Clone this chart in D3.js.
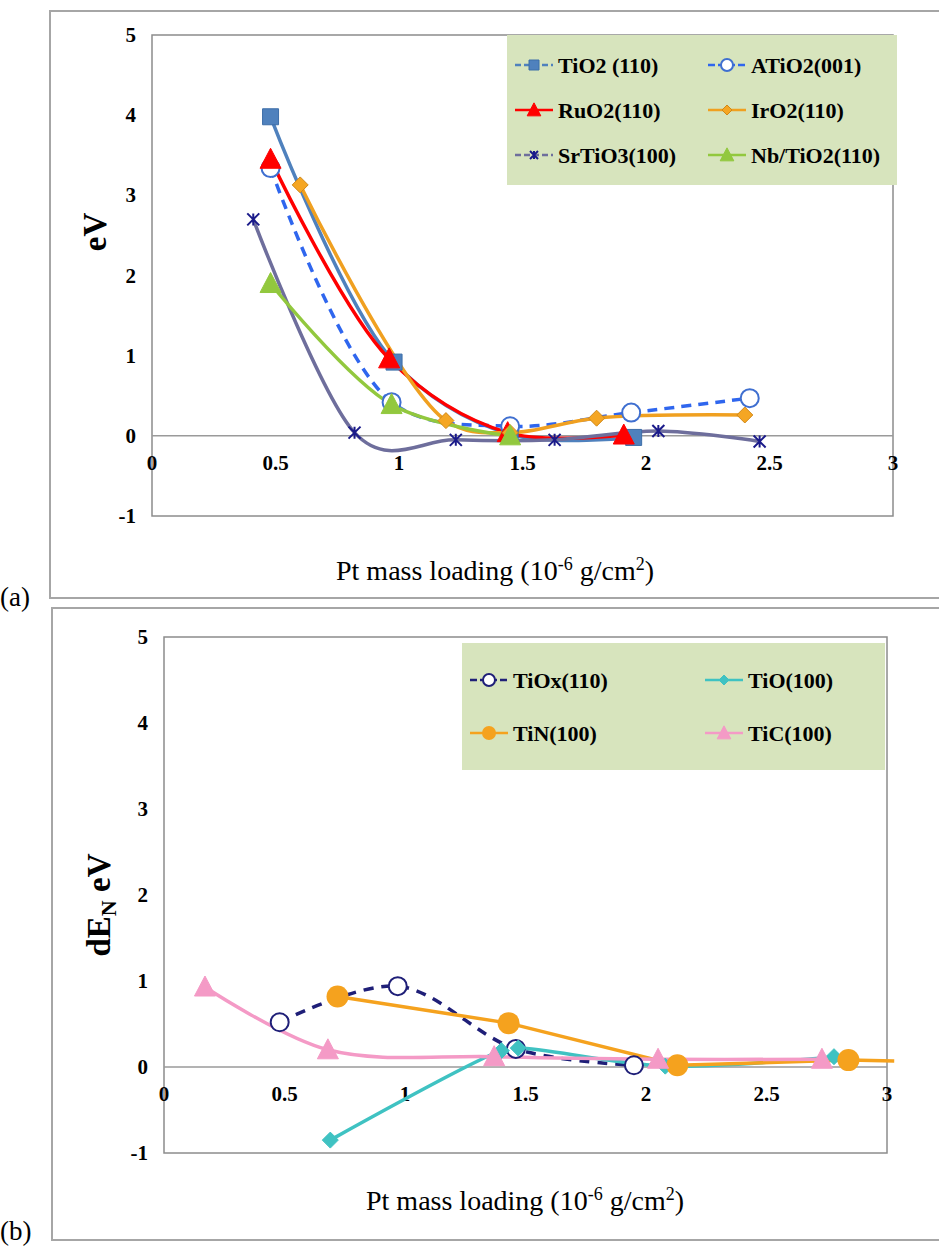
<!DOCTYPE html>
<html>
<head>
<meta charset="utf-8">
<script src="https://d3js.org/d3.v7.min.js"></script>
<style>
  body { margin: 0; background: #fff; }
  svg { display: block; }
  text { font-family: "Liberation Serif", serif; font-weight: normal; }
  text.bold { font-weight: bold; }
</style>
</head>
<body>
<script>
"use strict";

// ---- data, panel (a) ----
var xTicks = [0, 0.5, 1, 1.5, 2, 2.5, 3];
var yTicks = [-1, 0, 1, 2, 3, 4, 5];

var tio2 = [[0.48, 3.98], [0.98, 0.92], [1.45, 0.02], [1.95, -0.02]];
var atio2 = [[0.48, 3.34], [0.97, 0.42], [1.45, 0.12], [1.94, 0.29], [2.42, 0.47]];
var ruo2 = [[0.48, 3.45], [0.96, 0.96], [1.44, 0.04], [1.91, 0.01]];
var iro2 = [[0.60, 3.13], [1.19, 0.19], [1.45, 0.04], [1.80, 0.22], [2.40, 0.26]];
var srtio3 = [[0.41, 2.70], [0.82, 0.04], [1.23, -0.05], [1.63, -0.05], [2.05, 0.06], [2.46, -0.07]];
var nbtio2 = [[0.48, 1.90], [0.97, 0.39], [1.45, 0.0]];

// ---- data, panel (b) ----
var tiox = [[0.48, 0.52], [0.97, 0.94], [1.46, 0.21], [1.95, 0.02]];
var tio = [[0.69, -0.85], [1.40, 0.19], [1.47, 0.22], [2.08, 0.01], [2.78, 0.12]];
var tin = [[0.72, 0.82], [1.43, 0.51], [2.13, 0.02], [2.84, 0.08], [3.03, 0.07]];
var tic = [[0.17, 0.93], [0.68, 0.20], [1.37, 0.12], [2.05, 0.09], [2.73, 0.09]];

var W = 939, H = 1247;
var svg = d3.select("body").append("svg").attr("width", W).attr("height", H);

var panels = [
  {
    tag: "(a)", frame: [50, 11, 900, 587],
    x0: 152, x1: 893, yTop: 35, yBot: 516,
    ylx: 106, yly: 232,
    xtitleX: 495, xtitleY: 580,
    legend: {x: 507, y: 35, w: 390, h: 150, rows: [65, 110, 155], cols: [515, 708]},
    series: [
      {name: "TiO2 (110)", data: tio2, color: "#4f81bd", marker: "square", mfill: "#4f81bd", mstroke: "#3d6ea8", dash: null, legDash: "6,3"},
      {name: "ATiO2(001)", data: atio2, color: "#2f66ee", marker: "circle", mfill: "#fff", mstroke: "#3f6fd0", dash: "10,7"},
      {name: "RuO2(110)", data: ruo2, color: "#ff0000", marker: "triangle", mfill: "#ff0000", mstroke: "#ff0000", dash: null},
      {name: "IrO2(110)", data: iro2, color: "#f0a020", marker: "diamond", mfill: "#f5a623", mstroke: "#d08818", dash: null},
      {name: "SrTiO3(100)", data: srtio3, color: "#6e6e9c", marker: "star", mfill: "none", mstroke: "#1a1a8a", dash: null, legDash: "6,3", alpha: 0},
      {name: "Nb/TiO2(110)", data: nbtio2, color: "#92c83e", marker: "triangle", mfill: "#92c83e", mstroke: "#92c83e", dash: null}
    ]
  },
  {
    tag: "(b)", frame: [52, 608, 900, 632],
    x0: 164, x1: 887, yTop: 637, yBot: 1153,
    ylx: 110, yly: 905,
    xtitleX: 525, xtitleY: 1210,
    legend: {x: 462, y: 643, w: 423, h: 127, rows: [680, 733], cols: [470, 705]},
    series: [
      {name: "TiOx(110)", data: tiox, color: "#1f1f78", marker: "circle", mfill: "#fff", mstroke: "#1f1f78", dash: "10,8"},
      {name: "TiO(100)", data: tio, color: "#3fc2c2", marker: "diamond", mfill: "#3fc2c2", mstroke: "#3fc2c2", dash: null},
      {name: "TiN(100)", data: tin, color: "#f5a21e", marker: "dot", mfill: "#f5a21e", mstroke: "#f5a21e", dash: null, straight: true},
      {name: "TiC(100)", data: tic, color: "#f49ac6", marker: "triangle", mfill: "#f49ac6", mstroke: "#f49ac6", dash: null}
    ]
  }
];

function markerPath(type, s) {
  var h = s / 2;
  if (type === "square") return "M" + (-h) + "," + (-h) + "h" + s + "v" + s + "h" + (-s) + "Z";
  if (type === "triangle") return "M0," + (-h * 1.1) + "L" + (h * 1.05) + "," + (h * 0.9) + "L" + (-h * 1.05) + "," + (h * 0.9) + "Z";
  if (type === "diamond") return "M0," + (-h) + "L" + h + ",0L0," + h + "L" + (-h) + ",0Z";
  if (type === "star") return "M" + (-h) + "," + (-h) + "L" + h + "," + h + "M" + h + "," + (-h) + "L" + (-h) + "," + h + "M0," + (-h) + "L0," + h;
  return null;
}

function drawMarker(g, s, cx, cy, size) {
  if (s.marker === "circle" || s.marker === "dot") {
    g.append("circle").attr("cx", cx).attr("cy", cy).attr("r", size / 2)
      .attr("fill", s.mfill).attr("stroke", s.mstroke).attr("stroke-width", s.marker === "circle" ? 2 : 0);
  } else {
    g.append("path").attr("transform", "translate(" + cx + "," + cy + ")")
      .attr("d", markerPath(s.marker, size))
      .attr("fill", s.mfill).attr("stroke", s.mstroke)
      .attr("stroke-width", s.marker === "star" ? 2 : 1);
  }
}

var markerSize = {square: 16, circle: 18, triangle: 20, diamond: 16, star: 12, dot: 22};

panels.forEach(function(p) {
  var x = d3.scaleLinear().domain([0, 3]).range([p.x0, p.x1]);
  var y = d3.scaleLinear().domain([-1, 5]).range([p.yBot, p.yTop]);

  // outer frame
  svg.append("rect").attr("x", p.frame[0]).attr("y", p.frame[1])
    .attr("width", p.frame[2]).attr("height", p.frame[3])
    .attr("fill", "none").attr("stroke", "#a6a6a6").attr("stroke-width", 2);

  svg.append("text").attr("x", 0).attr("y", Math.min(p.frame[1] + p.frame[3] + 8, 1240))
    .style("font-size", "27px").text(p.tag);

  // plot area border
  svg.append("rect").attr("x", x(0)).attr("y", y(5))
    .attr("width", x(3) - x(0)).attr("height", y(-1) - y(5))
    .attr("fill", "none").attr("stroke", "#8c8c8c").attr("stroke-width", 1.5);

  // x axis at zero
  svg.append("line").attr("x1", x(0)).attr("x2", x(3)).attr("y1", y(0)).attr("y2", y(0))
    .attr("stroke", "#9a9a9a").attr("stroke-width", 1.5);

  svg.selectAll(null).data(yTicks).enter().append("text").attr("class", "bold")
    .attr("x", x(0) - 16).attr("y", function(d) { return y(d) + 7; })
    .attr("text-anchor", "end").style("font-size", "21px")
    .text(function(d) { return d; });

  svg.selectAll(null).data(xTicks).enter().append("text").attr("class", "bold")
    .attr("x", function(d) { return x(d); }).attr("y", y(0) + 34)
    .attr("text-anchor", "middle").style("font-size", "21px")
    .text(function(d) { return d; });

  // y title
  var yt = svg.append("text").attr("class", "bold")
    .attr("transform", "translate(" + p.ylx + "," + p.yly + ") rotate(-90)")
    .attr("text-anchor", "middle").style("font-size", "33px");
  if (p.tag === "(a)") {
    yt.text("eV");
  } else {
    yt.append("tspan").text("dE");
    yt.append("tspan").attr("dy", 6).style("font-size", "22px").text("N");
    yt.append("tspan").attr("dy", -6).text(" eV");
  }

  // x title
  var xt = svg.append("text").attr("x", p.xtitleX).attr("y", p.xtitleY)
    .attr("text-anchor", "middle").style("font-size", "28px");
  xt.append("tspan").text("Pt mass loading (10");
  xt.append("tspan").attr("dy", -10).style("font-size", "18px").text("-6");
  xt.append("tspan").attr("dy", 10).text(" g/cm");
  xt.append("tspan").attr("dy", -10).style("font-size", "18px").text("2");
  xt.append("tspan").attr("dy", 10).text(")");

  // series
  p.series.forEach(function(s) {
    var a = s.alpha === undefined ? 0.5 : s.alpha;
    var line = d3.line()
      .x(function(d) { return x(d[0]); })
      .y(function(d) { return y(d[1]); })
      .curve(s.straight ? d3.curveLinear : d3.curveCatmullRom.alpha(a));
    svg.append("path").datum(s.data).attr("d", line)
      .attr("fill", "none").attr("stroke", s.color).attr("stroke-width", 3.5)
      .attr("stroke-dasharray", s.dash);
  });
  p.series.forEach(function(s) {
    var g = svg.append("g");
    s.data.filter(function(d) { return d[0] <= 3; }).forEach(function(d) {
      drawMarker(g, s, x(d[0]), y(d[1]), markerSize[s.marker]);
    });
  });

  // legend
  var L = p.legend;
  svg.append("rect").attr("x", L.x).attr("y", L.y).attr("width", L.w).attr("height", L.h)
    .attr("fill", "#d7e4bd");
  p.series.forEach(function(s, i) {
    var cx = L.cols[i % 2], cy = L.rows[Math.floor(i / 2)];
    var g = svg.append("g");
    g.append("line").attr("x1", cx).attr("x2", cx + 38).attr("y1", cy).attr("y2", cy)
      .attr("stroke", s.color).attr("stroke-width", 2.5)
      .attr("stroke-dasharray", s.legDash || (s.dash ? "7,3" : null));
    drawMarker(g, s, cx + 19, cy, Math.round(markerSize[s.marker] * 0.65));
    svg.append("text").attr("class", "bold").attr("x", cx + 43).attr("y", cy + 8)
      .style("font-size", "22px").text(s.name);
  });
});
</script>
</body>
</html>
